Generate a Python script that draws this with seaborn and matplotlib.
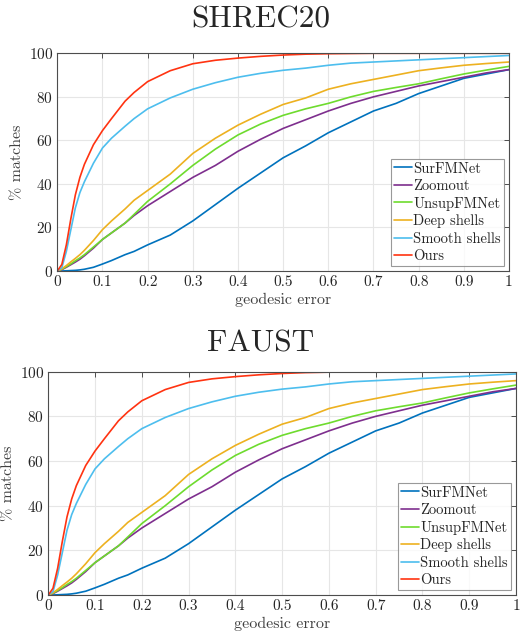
import numpy as np
import pandas as pd
import matplotlib
matplotlib.use("Agg")
import matplotlib.pyplot as plt
import seaborn as sns

# geodesic error thresholds (shared by both panels)
errors = [0, 0.01, 0.02, 0.03, 0.04, 0.05, 0.06, 0.08, 0.1, 0.12, 0.15, 0.17, 0.2,
          0.25, 0.3, 0.35, 0.4, 0.45, 0.5, 0.55, 0.6, 0.65, 0.7, 0.75, 0.8, 0.85,
          0.9, 0.95, 1.0]

surfmnet = [0, 0, 0.1, 0.2, 0.3, 0.5, 0.8, 1.7, 3.2, 4.8, 7.5, 9, 12, 16.5, 23,
            30.5, 38, 45, 52, 57.5, 63.5, 68.5, 73.5, 77, 81.5, 85, 88.5, 90.5, 92.5]
zoomout = [0, 0.6, 1.7, 2.9, 4.1, 5.4, 7, 10.5, 14.5, 17.5, 22, 25.5, 30, 36.5,
           43, 48.5, 55, 60.5, 65.5, 69.5, 73.5, 77, 80, 82.5, 85, 87, 89, 91, 92.5]
unsupfmnet = [0, 0.8, 2, 3.3, 4.7, 6, 7.5, 11, 14.5, 17.5, 22, 26, 32, 40, 48.5,
              56, 62.5, 67.5, 71.5, 74.5, 77, 80, 82.5, 84.3, 86, 88.3, 90.5, 92.3, 94]
deep_shells = [0, 1, 2.5, 4.2, 5.8, 7.5, 9.5, 14, 19, 23, 28.5, 32.5, 37, 44.5,
               54, 61, 67, 72, 76.5, 79.5, 83.5, 86, 88, 90, 92, 93.3, 94.5, 95.3, 96]
smooth_shells = [0, 1.5, 9, 19, 29, 36, 41, 49.5, 56.5, 61, 66.5, 70, 74.5, 79.5,
                 83.5, 86.5, 89, 90.8, 92.2, 93.2, 94.5, 95.5, 96, 96.5, 97, 97.5, 98, 98.5, 99]
ours = [0, 3, 12, 24, 35, 43, 49, 58, 64.5, 70, 78, 82, 87, 92, 95.2, 96.8, 97.8,
        98.6, 99.2, 99.6, 99.8, 99.9, 100, 100, 100, 100, 100, 100, 100]

methods = ["SurFMNet", "Zoomout", "UnsupFMNet", "Deep shells", "Smooth shells", "Ours"]
curves = [surfmnet, zoomout, unsupfmnet, deep_shells, smooth_shells, ours]
colors = ["#0072BD", "#7E2F8E", "#6EDB2E", "#EDB120", "#4DBEEE", "#FF3311"]
panels = ["SHREC20", "FAUST"]
x_ticks = [0, 0.1, 0.2, 0.3, 0.4, 0.5, 0.6, 0.7, 0.8, 0.9, 1]
x_tick_labels = ["0", "0.1", "0.2", "0.3", "0.4", "0.5", "0.6", "0.7", "0.8", "0.9", "1"]
y_ticks = [0, 20, 40, 60, 80, 100]

df = pd.concat(
    [pd.DataFrame({"error": errors, "matches": c, "method": m}) for m, c in zip(methods, curves)],
    ignore_index=True,
)

sns.set_style("white")
plt.rcParams["font.family"] = ["cmr10", "DejaVu Serif"]
plt.rcParams["axes.formatter.use_mathtext"] = True

W, H = 522, 635
fig = plt.figure(figsize=(W / 100, H / 100), dpi=100)
# axes boxes in pixels: left, right, top, bottom
boxes = [(57.3, 509, 53.3, 271), (48.3, 516, 371.7, 595)]
title_baselines = [28, 352]
ylabel_right = [24, 15]
palette = dict(zip(methods, colors))

for title, (l, r, t, b), tb, yr in zip(panels, boxes, title_baselines, ylabel_right):
    ax = fig.add_axes([l / W, 1 - b / H, (r - l) / W, (b - t) / H])
    sns.lineplot(data=df, x="error", y="matches", hue="method", hue_order=methods,
                 palette=palette, linewidth=1.2, ax=ax)
    ax.set_xlim(0, 1)
    ax.set_ylim(0, 100)
    ax.set_xticks(x_ticks)
    ax.set_xticklabels(x_tick_labels)
    ax.set_yticks(y_ticks)
    ax.grid(True, color="#e6e6e6", linewidth=0.8)
    ax.set_axisbelow(True)
    for s in ax.spines.values():
        s.set_color("#4d4d4d")
        s.set_linewidth(0.8)
    ax.tick_params(direction="in", top=True, right=True, length=3.5, width=0.7,
                   color="#4d4d4d", labelsize=11, pad=3, labelcolor="#262626")
    ax.set_xlabel("geodesic error", fontsize=11.5, color="#404040", labelpad=3)
    ax.set_ylabel("% matches", fontsize=11.5, color="#404040")
    ax.yaxis.set_label_coords((yr - l) / (r - l), 0.5)
    fig.text(0.5, 1 - tb / H, title, fontsize=22.5, ha="center", va="baseline")
    leg = ax.legend(loc="lower right", fontsize=10.5, frameon=True, fancybox=False,
                    handlelength=1.2, handletextpad=0.1, labelspacing=0.25,
                    borderpad=0.2, borderaxespad=0.35)
    leg.get_frame().set_edgecolor("#808080")
    leg.get_frame().set_linewidth(0.8)

fig.savefig("out.png", dpi=100)
